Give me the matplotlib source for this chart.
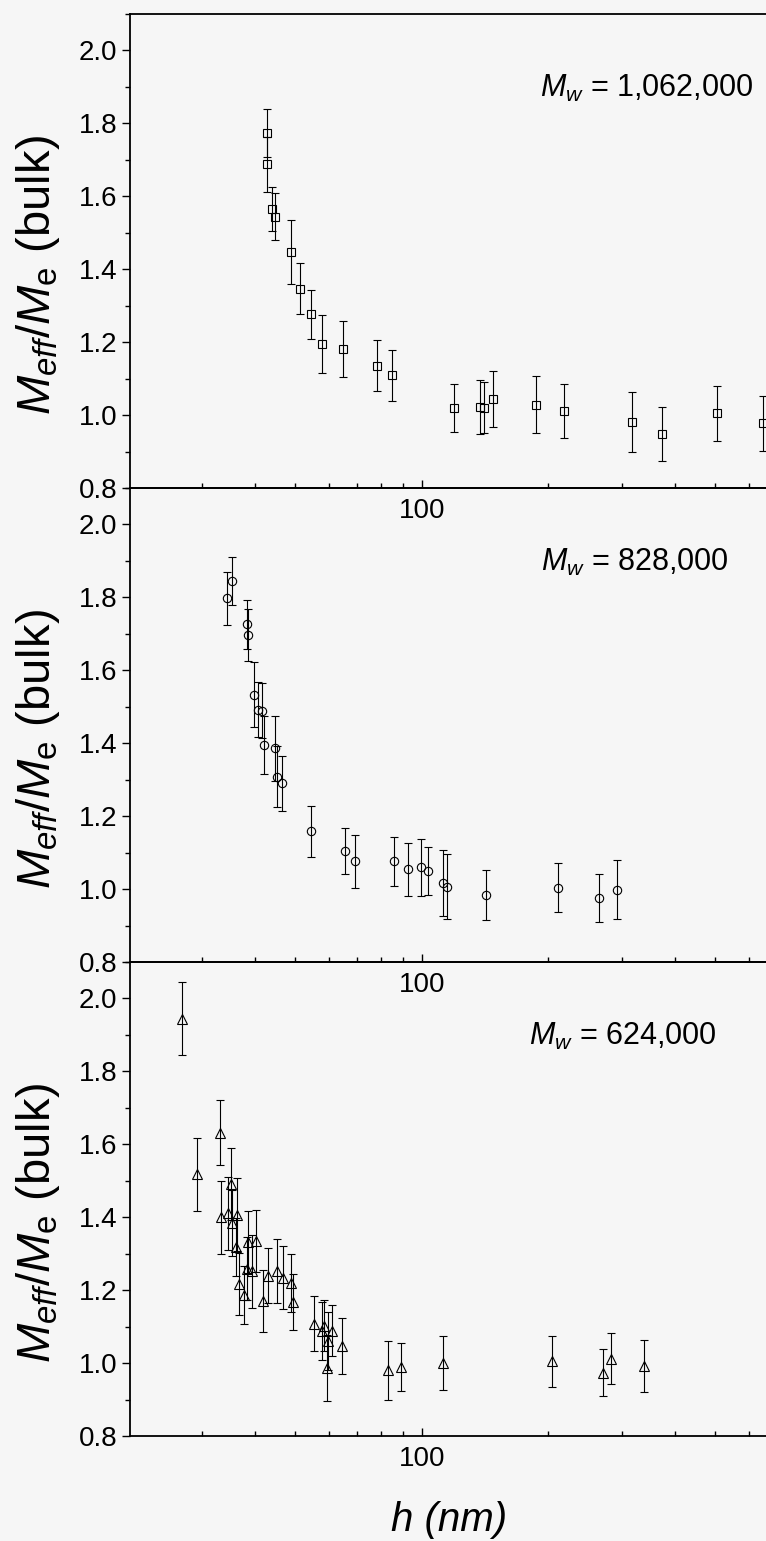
import matplotlib

matplotlib.use("Agg")
import matplotlib.pyplot as plt
from matplotlib.axes import Axes
from matplotlib.ticker import FormatStrFormatter, MultipleLocator

# Film thickness h (nm), M_eff/M_e (bulk) and error bars for each molecular weight
h_1062k: list[float] = [42.9, 42.8, 43.9, 44.8, 48.8, 51.3, 54.4, 57.9, 65.1,
                        78.4, 85.1, 119.4, 137.6, 140.9, 148.1, 187.2, 218.2,
                        316.7, 372.7, 505.5, 648.5]
m_1062k: list[float] = [1.774, 1.688, 1.566, 1.544, 1.447, 1.347, 1.277, 1.195,
                        1.182, 1.135, 1.109, 1.020, 1.023, 1.020, 1.043, 1.029,
                        1.011, 0.981, 0.948, 1.005, 0.977]
err_1062k: list[float] = [0.066, 0.075, 0.060, 0.065, 0.088, 0.070, 0.067,
                          0.080, 0.077, 0.070, 0.070, 0.066, 0.074, 0.070,
                          0.077, 0.078, 0.075, 0.083, 0.075, 0.075, 0.075]

h_828k: list[float] = [34.3, 35.3, 38.3, 38.6, 39.9, 40.8, 41.7, 42.2, 44.8,
                       45.3, 46.6, 54.4, 65.8, 69.5, 85.9, 92.9, 99.6, 103.7,
                       112.2, 114.7, 142.0, 211.4, 264.8, 292.2]
m_828k: list[float] = [1.797, 1.845, 1.726, 1.697, 1.533, 1.492, 1.489, 1.395,
                       1.386, 1.308, 1.290, 1.158, 1.104, 1.076, 1.076, 1.054,
                       1.060, 1.049, 1.016, 1.007, 0.984, 1.004, 0.975, 0.998]
err_828k: list[float] = [0.072, 0.066, 0.068, 0.072, 0.089, 0.075, 0.075,
                         0.080, 0.089, 0.084, 0.075, 0.071, 0.063, 0.072,
                         0.068, 0.072, 0.078, 0.066, 0.090, 0.090, 0.068,
                         0.068, 0.065, 0.081]

h_624k: list[float] = [26.9, 29.2, 33.1, 33.3, 34.6, 35.2, 35.4, 36.1, 36.3,
                       36.7, 37.8, 38.4, 38.6, 39.4, 40.2, 41.9, 43.1, 45.2,
                       46.7, 48.8, 49.3, 55.4, 58.0, 58.6, 59.6, 59.9, 61.2,
                       64.5, 83.0, 89.3, 112.2, 204.6, 270.6, 281.8, 338.8]
m_624k: list[float] = [1.945, 1.518, 1.632, 1.400, 1.411, 1.491, 1.384, 1.318,
                       1.407, 1.217, 1.186, 1.259, 1.332, 1.252, 1.334, 1.171,
                       1.240, 1.253, 1.234, 1.220, 1.168, 1.108, 1.088, 1.103,
                       0.987, 1.061, 1.089, 1.047, 0.980, 0.989, 1.000, 1.005,
                       0.974, 1.012, 0.992]
err_624k: list[float] = [0.100, 0.100, 0.090, 0.100, 0.100, 0.098, 0.090,
                         0.080, 0.100, 0.085, 0.080, 0.087, 0.085, 0.100,
                         0.085, 0.085, 0.075, 0.088, 0.086, 0.080, 0.076,
                         0.075, 0.080, 0.070, 0.090, 0.080, 0.070, 0.078,
                         0.080, 0.065, 0.075, 0.070, 0.065, 0.070, 0.070]

panel_labels: list[str] = [r"$M_w$ = 1,062,000", r"$M_w$ = 828,000",
                           r"$M_w$ = 624,000"]
panel_markers: list[str] = ["s", "o", "^"]
marker_sizes: list[float] = [5.4, 6.0, 7.0]

PAPER = "#f6f6f6"
FONT = "Liberation Sans"


def style_axes(ax: Axes) -> None:
    """Log x axis with a single labelled decade tick, linear y axis."""
    ax.set_xscale("log")
    ax.set_xlim(20.2, 660.0)
    ax.set_ylim(0.8, 2.1)
    ax.set_facecolor("none")
    ax.set_xticks([100], labels=["100"])
    ax.set_xticks([30, 40, 50, 60, 70, 80, 90, 200, 300, 400, 500, 600],
                  minor=True)
    ax.xaxis.set_minor_formatter(plt.NullFormatter())
    ax.yaxis.set_major_locator(MultipleLocator(0.2))
    ax.yaxis.set_minor_locator(MultipleLocator(0.1))
    ax.yaxis.set_major_formatter(FormatStrFormatter("%.1f"))
    ax.tick_params(axis="x", which="both", direction="in", top=False,
                   labelsize=20, pad=7, width=1.0)
    ax.tick_params(axis="x", which="major", length=6)
    ax.tick_params(axis="x", which="minor", length=3.5)
    ax.tick_params(axis="y", which="both", direction="out", right=False,
                   labelsize=20, pad=3, width=1.0)
    ax.tick_params(axis="y", which="major", length=6)
    ax.tick_params(axis="y", which="minor", length=3.5)
    ax.spines["right"].set_visible(False)
    for side in ("left", "top", "bottom"):
        ax.spines[side].set_linewidth(1.3)
    ax.set_ylabel(r"$M_{eff}/M_{\mathrm{e}}$ (bulk)", fontsize=34)
    ax.yaxis.set_label_coords(-0.107, 0.45)


def draw_panel(ax: Axes, h: list[float], m: list[float], err: list[float],
               marker: str, size: float, label: str, label_x: float) -> None:
    """Draw one molecular-weight series with error bars."""
    ax.errorbar(h, m, yerr=err, fmt=marker, ms=size, mfc="none", mec="black",
                mew=0.8, ecolor="black", elinewidth=0.8, capsize=2.6,
                capthick=0.8, clip_on=True)
    ax.text(label_x, 0.826, label, transform=ax.transAxes, fontsize=22,
            ha="left", va="baseline")
    style_axes(ax)


def main() -> None:
    plt.rcParams["font.family"] = [FONT, "DejaVu Sans"]
    plt.rcParams["mathtext.fontset"] = "custom"
    plt.rcParams["mathtext.rm"] = FONT
    plt.rcParams["mathtext.it"] = f"{FONT}:italic"

    fig = plt.figure(figsize=(7.66, 15.41), dpi=100, facecolor=PAPER)
    left = 130 / 766
    width = 1.0 - left
    height = 474 / 1541
    bottoms = [1 - 488 / 1541, 1 - 962 / 1541, 1 - 1436 / 1541]
    label_xs = [0.645, 0.647, 0.628]
    series = [(h_1062k, m_1062k, err_1062k), (h_828k, m_828k, err_828k),
              (h_624k, m_624k, err_624k)]

    for i, (h, m, err) in enumerate(series):
        ax = fig.add_axes((left, bottoms[i], width, height))
        draw_panel(ax, h, m, err, panel_markers[i], marker_sizes[i],
                   panel_labels[i], label_xs[i])

    fig.text(449 / 766, 1 - 1520 / 1541, "h (nm)", fontsize=29,
             style="italic", ha="center", va="center")
    fig.savefig("out.png", dpi=100, facecolor=PAPER)


if __name__ == "__main__":
    main()
